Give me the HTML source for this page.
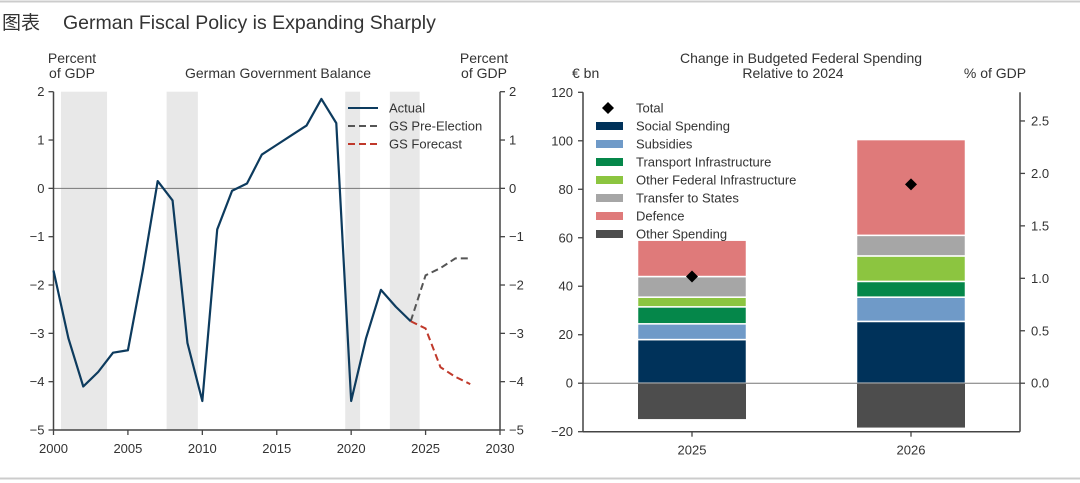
<!DOCTYPE html>
<html><head><meta charset="utf-8">
<style>
body{margin:0;background:#fff;}
svg{display:block;font-family:"Liberation Sans",Arial,sans-serif;}
</style></head>
<body>
<svg id="c" width="1080" height="483" viewBox="0 0 1080 483" xmlns="http://www.w3.org/2000/svg">
<line x1="0" y1="1.5" x2="1080" y2="1.5" stroke="#ccc" stroke-width="2"/>
<line x1="0" y1="478.5" x2="1080" y2="478.5" stroke="#ccc" stroke-width="2"/>
<text x="2" y="29" font-size="19" fill="#333" font-family="'Liberation Sans','Noto Sans CJK SC',sans-serif">图表</text>
<text x="63" y="29" font-size="19.5" fill="#333">German Fiscal Policy is Expanding Sharply</text>
<g id="left"></g>
<g id="right"></g>
</svg>
<script>
// ---- Left chart data ----
const years = [2000,2001,2002,2003,2004,2005,2006,2007,2008,2009,2010,2011,2012,2013,2014,2015,2016,2017,2018,2019,2020,2021,2022,2023,2024];
const actual = [-1.7,-3.1,-4.1,-3.8,-3.4,-3.35,-1.7,0.15,-0.25,-3.2,-4.4,-0.85,-0.05,0.1,0.7,0.9,1.1,1.3,1.85,1.35,-4.4,-3.1,-2.1,-2.45,-2.75];
const fcYears = [2024,2025,2026,2027,2028];
const preElection = [-2.75,-1.8,-1.65,-1.45,-1.45];
const forecast = [-2.75,-2.9,-3.7,-3.9,-4.05];
const recessions = [[2000.5,2003.6],[2007.6,2009.7],[2019.6,2020.6],[2022.6,2024.6]];
const xTicks = [2000,2005,2010,2015,2020,2025,2030];
const yTicks = [2,1,0,-1,-2,-3,-4,-5];
const yTickLabels = ["2","1","0","\u22121","\u22122","\u22123","\u22124","\u22125"];
// ---- Right chart data ----
const barCats = ["2025","2026"];
const seriesNames = ["Social Spending","Subsidies","Transport Infrastructure","Other Federal Infrastructure","Transfer to States","Defence","Other Spending"];
const social = [18,25.5];
const subsidies = [6.5,10];
const transport = [7,6.5];
const otherInfra = [4,10.5];
const transfers = [8.5,8.5];
const defence = [15,39.5];
const otherSpending = [-15,-18.5];
const totals = [44,82];
const leftTicks = [120,100,80,60,40,20,0,-20];
const rightTicks = [0,0.5,1,1.5,2,2.5];
const rightTickLabels = ["0.0","0.5","1.0","1.5","2.0","2.5"];

const NS="http://www.w3.org/2000/svg";
function mk(parent,tag,attrs,text){const e=document.createElementNS(NS,tag);for(const k in attrs)e.setAttribute(k,attrs[k]);if(text!==undefined)e.textContent=text;parent.appendChild(e);return e;}
const AX="#444", TXT="#333";

// Left
const L=document.getElementById('left');
const lx0=53.5,lx1=500,ly0=91.7,ly1=430;
const xs=v=>lx0+(v-2000)/30*(lx1-lx0);
const ys=v=>ly0+(2-v)/7*(ly1-ly0);
recessions.forEach(r=>{
 const e=mk(L,'rect',{x:xs(r[0]),y:ly0,width:xs(r[1])-xs(r[0]),height:ly1-ly0,fill:'#e8e8e8'});
 
 
});
let e=mk(L,'line',{x1:lx0,x2:lx1,y1:ys(0),y2:ys(0),stroke:'#777','stroke-width':1});

e=mk(L,'line',{x1:lx0,x2:lx0,y1:ly0,y2:ly1,stroke:AX,'stroke-width':1.5});

e=mk(L,'line',{x1:lx1,x2:lx1,y1:ly0,y2:ly1,stroke:AX,'stroke-width':1.5});

e=mk(L,'line',{x1:lx0,x2:lx1,y1:ly1,y2:ly1,stroke:AX,'stroke-width':1.5});

yTicks.forEach((t,i)=>{
 const y=ys(t);
 mk(L,'line',{x1:lx0-5,x2:lx0,y1:y,y2:y,stroke:AX,'stroke-width':1.3});
 mk(L,'line',{x1:lx1,x2:lx1+5,y1:y,y2:y,stroke:AX,'stroke-width':1.3});
 let a=mk(L,'text',{x:lx0-9,y:y+4.5,'text-anchor':'end','font-size':13,fill:TXT},yTickLabels[i]);
 
 a=mk(L,'text',{x:lx1+9,y:y+4.5,'font-size':13,fill:TXT},yTickLabels[i]);
 
});
xTicks.forEach(t=>{
 const x=xs(t);
 mk(L,'line',{x1:x,x2:x,y1:ly1,y2:ly1+5,stroke:AX,'stroke-width':1.3});
 const a=mk(L,'text',{x:x,y:ly1+23,'text-anchor':'middle','font-size':13,fill:TXT},t);
 
});
const pts=(xa,ya)=>xa.map((x,i)=>xs(x)+','+ys(ya[i])).join(' ');
e=mk(L,'polyline',{points:pts(fcYears,preElection),fill:'none',stroke:'#555','stroke-width':2,'stroke-dasharray':'7,4'});

e=mk(L,'polyline',{points:pts(fcYears,forecast),fill:'none',stroke:'#c0392b','stroke-width':2,'stroke-dasharray':'7,4'});

e=mk(L,'polyline',{points:pts(years,actual),fill:'none',stroke:'#0d3b5e','stroke-width':2.2,'stroke-linejoin':'round'});

[["Actual",'#0d3b5e',null],["GS Pre-Election",'#555','7,4'],["GS Forecast",'#c0392b','7,4']].forEach((l,i)=>{
 const y=108+i*18;
 const g=mk(L,'g',{});
 
 const a={x1:348,x2:378,y1:y,y2:y,stroke:l[1],'stroke-width':2};
 if(l[2])a['stroke-dasharray']=l[2];
 mk(g,'line',a);
 mk(g,'text',{x:389,y:y+4.5,'font-size':13,fill:TXT},l[0]);
});
[["Percent",72,63,'middle'],["of GDP",72,78,'middle'],["Percent",484,63,'middle'],["of GDP",484,78,'middle']].forEach(t=>{
 const a=mk(L,'text',{x:t[1],y:t[2],'text-anchor':t[3],'font-size':14,fill:TXT},t[0]);
 
});
e=mk(L,'text',{x:278,y:78,'text-anchor':'middle','font-size':14,fill:TXT},'German Government Balance');


// Right
const R=document.getElementById('right');
const rx0=583,rx1=1020,ry0=92.3,ry1=431.7;
const yb=v=>ry0+(120-v)/140*(ry1-ry0);
const pxPerPct=104.9;
const yp=v=>yb(0)-v*pxPerPct;
const centers=[692,911], bw=109;
const colors=['#00325a','#6f9ac8','#05874a','#8cc540','#a6a6a6','#df7a7a','#4d4d4d'];
const pos=[social,subsidies,transport,otherInfra,transfers,defence];
barCats.forEach((c,i)=>{
 let base=0;
 pos.forEach((s,k)=>{
  const v=s[i];
  const r=mk(R,'rect',{x:centers[i]-bw/2,y:yb(base+v),width:bw,height:yb(base)-yb(base+v),fill:colors[k],stroke:'#fff','stroke-width':1.5});
  
  
  base+=v;
 });
 const r=mk(R,'rect',{x:centers[i]-bw/2,y:yb(0),width:bw,height:yb(otherSpending[i])-yb(0),fill:colors[6],stroke:'#fff','stroke-width':1});
 
 
});
e=mk(R,'line',{x1:rx0,x2:rx1,y1:yb(0),y2:yb(0),stroke:'#777','stroke-width':1});

totals.forEach((t,i)=>{
 const x=centers[i],y=yb(t);
 const d=mk(R,'polygon',{points:`${x},${y-6} ${x+6},${y} ${x},${y+6} ${x-6},${y}`,fill:'#000'});
 
 
});
e=mk(R,'line',{x1:rx0,x2:rx0,y1:ry0,y2:ry1,stroke:AX,'stroke-width':1.5});

e=mk(R,'line',{x1:rx1,x2:rx1,y1:ry0,y2:ry1,stroke:AX,'stroke-width':1.5});

e=mk(R,'line',{x1:rx0,x2:rx1,y1:ry1,y2:ry1,stroke:AX,'stroke-width':1.5});

leftTicks.forEach(t=>{
 const y=yb(t);
 mk(R,'line',{x1:rx0-5,x2:rx0,y1:y,y2:y,stroke:AX,'stroke-width':1.3});
 const a=mk(R,'text',{x:rx0-10,y:y+4.5,'text-anchor':'end','font-size':13,fill:TXT},t<0?'\u2212'+(-t):t);
 
});
rightTicks.forEach((t,i)=>{
 const y=yp(t);
 mk(R,'line',{x1:rx1,x2:rx1+5,y1:y,y2:y,stroke:AX,'stroke-width':1.3});
 const a=mk(R,'text',{x:rx1+11,y:y+4.5,'font-size':13,fill:TXT},rightTickLabels[i]);
 
});
barCats.forEach((c,i)=>{
 mk(R,'line',{x1:centers[i],x2:centers[i],y1:ry1,y2:ry1+5,stroke:AX,'stroke-width':1.3});
 const a=mk(R,'text',{x:centers[i],y:ry1+23,'text-anchor':'middle','font-size':13,fill:TXT},c);
 
});
// legend
let lg=mk(R,'g',{});

mk(lg,'polygon',{points:'608,102 614,108 608,114 602,108',fill:'#000'});
mk(lg,'text',{x:636,y:112.5,'font-size':13,fill:TXT},'Total');
seriesNames.forEach((n,i)=>{
 const y=126+i*18;
 const g=mk(R,'g',{});
 
 
 mk(g,'rect',{x:596,y:y-4,width:27,height:8,fill:colors[i]});
 mk(g,'text',{x:636,y:y+4.5,'font-size':13,fill:TXT},n);
});
[["Change in Budgeted Federal Spending",801,63,'middle'],["Relative to 2024",793,78,'middle']].forEach(t=>{
 const a=mk(R,'text',{x:t[1],y:t[2],'text-anchor':t[3],'font-size':14,fill:TXT},t[0]);
 
});
e=mk(R,'text',{x:572,y:78,'font-size':14,fill:TXT},'\u20ac bn');

e=mk(R,'text',{x:995,y:78,'text-anchor':'middle','font-size':14,fill:TXT},'% of GDP');

</script>
</body></html>
